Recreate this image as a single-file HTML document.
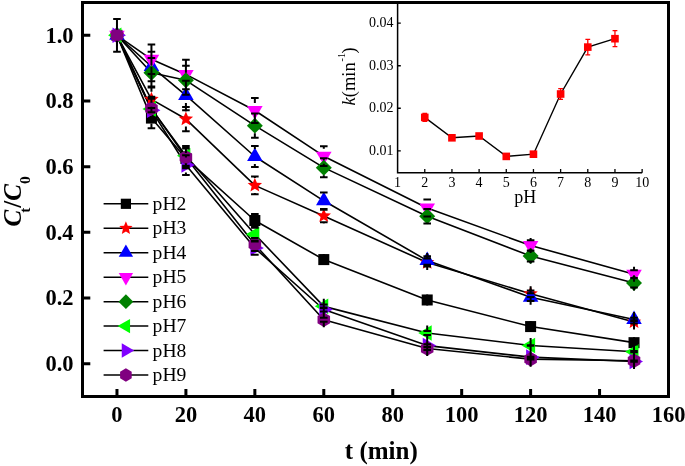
<!DOCTYPE html>
<html><head><meta charset="utf-8"><style>html,body{margin:0;padding:0;background:#fff}svg{display:block;will-change:transform}</style></head><body>
<svg width="685" height="466" viewBox="0 0 685 466">
<rect width="685" height="466" fill="#fff"/>
<g font-family="Liberation Serif" font-size="14" fill="#000">
<path d="M397.6,2.5V172.7H642.13" stroke="#000" stroke-width="1.5" fill="none"/>
<path d="M424.77,172.7V169.10M451.94,172.7V169.10M479.11,172.7V169.10M506.28,172.7V169.10M533.45,172.7V169.10M560.62,172.7V169.10M587.79,172.7V169.10M614.96,172.7V169.10M642.13,172.7V169.10M397.6,150.79H400.80M397.6,108.26H400.80M397.6,65.73H400.80M397.6,23.20H400.80" stroke="#000" stroke-width="1.3" fill="none"/>
<text x="397.60" y="186.6" text-anchor="middle">1</text>
<text x="424.77" y="186.6" text-anchor="middle">2</text>
<text x="451.94" y="186.6" text-anchor="middle">3</text>
<text x="479.11" y="186.6" text-anchor="middle">4</text>
<text x="506.28" y="186.6" text-anchor="middle">5</text>
<text x="533.45" y="186.6" text-anchor="middle">6</text>
<text x="560.62" y="186.6" text-anchor="middle">7</text>
<text x="587.79" y="186.6" text-anchor="middle">8</text>
<text x="614.96" y="186.6" text-anchor="middle">9</text>
<text x="642.13" y="186.6" text-anchor="middle">10</text>
<text x="393.6" y="154.79" text-anchor="end">0.01</text>
<text x="393.6" y="112.26" text-anchor="end">0.02</text>
<text x="393.6" y="69.73" text-anchor="end">0.03</text>
<text x="393.6" y="27.20" text-anchor="end">0.04</text>
</g>
<text x="525.3" y="203.1" text-anchor="middle" font-family="Liberation Serif" font-size="18">pH</text>
<text transform="translate(355.2,105.4) rotate(-90)" font-family="Liberation Serif" font-size="18.5"><tspan font-style="italic">k</tspan>(min<tspan font-size="10" dy="-10" dx="0.8">-1</tspan><tspan dy="10" dx="-0.3">)</tspan></text>
<polyline points="424.77,117.40 451.94,137.80 479.11,136.00 506.28,156.40 533.45,154.20 560.62,94.00 587.79,47.10 614.96,38.70" stroke="#000" stroke-width="1.4" fill="none"/>
<rect x="420.97" y="113.60" width="7.6" height="7.6" fill="#ff0000"/>
<path d="M424.77,113.40V121.40M422.37,113.40H427.17M422.37,121.40H427.17" stroke="#ff0000" stroke-width="1.3" fill="none"/>
<rect x="448.14" y="134.00" width="7.6" height="7.6" fill="#ff0000"/>
<rect x="475.31" y="132.20" width="7.6" height="7.6" fill="#ff0000"/>
<rect x="502.48" y="152.60" width="7.6" height="7.6" fill="#ff0000"/>
<rect x="529.65" y="150.40" width="7.6" height="7.6" fill="#ff0000"/>
<rect x="556.82" y="90.20" width="7.6" height="7.6" fill="#ff0000"/>
<path d="M560.62,88.70V99.30M558.22,88.70H563.02M558.22,99.30H563.02" stroke="#ff0000" stroke-width="1.3" fill="none"/>
<rect x="583.99" y="43.30" width="7.6" height="7.6" fill="#ff0000"/>
<path d="M587.79,39.40V54.80M585.39,39.40H590.19M585.39,54.80H590.19" stroke="#ff0000" stroke-width="1.3" fill="none"/>
<rect x="611.16" y="34.90" width="7.6" height="7.6" fill="#ff0000"/>
<path d="M614.96,30.70V46.70M612.56,30.70H617.36M612.56,46.70H617.36" stroke="#ff0000" stroke-width="1.3" fill="none"/>
<polyline points="116.97,35.33 151.44,118.07 185.91,158.46 254.85,220.51 323.79,259.59 427.21,299.97 530.62,326.57 634.03,342.65" stroke="#000" stroke-width="1.6" fill="none" stroke-linejoin="round"/>
<polyline points="116.97,35.33 151.44,99.36 185.91,119.06 254.85,185.38 323.79,215.92 427.21,262.54 530.62,293.73 634.03,321.97" stroke="#000" stroke-width="1.6" fill="none" stroke-linejoin="round"/>
<polyline points="116.97,35.33 151.44,66.53 185.91,95.42 254.85,156.49 323.79,200.81 427.21,260.57 530.62,297.18 634.03,319.47" stroke="#000" stroke-width="1.6" fill="none" stroke-linejoin="round"/>
<polyline points="116.97,35.33 151.44,59.30 185.91,74.41 254.85,110.52 323.79,156.16 427.21,208.04 530.62,245.47 634.03,274.16" stroke="#000" stroke-width="1.6" fill="none" stroke-linejoin="round"/>
<polyline points="116.97,35.33 151.44,72.76 185.91,80.32 254.85,125.63 323.79,167.65 427.21,216.25 530.62,255.97 634.03,282.90" stroke="#000" stroke-width="1.6" fill="none" stroke-linejoin="round"/>
<polyline points="116.97,35.33 151.44,108.88 185.91,155.83 254.85,234.30 323.79,306.37 427.21,332.97 530.62,345.48 634.03,351.68" stroke="#000" stroke-width="1.6" fill="none" stroke-linejoin="round"/>
<polyline points="116.97,35.33 151.44,110.19 185.91,165.03 254.85,248.09 323.79,309.49 427.21,345.61 530.62,357.13 634.03,361.47" stroke="#000" stroke-width="1.6" fill="none" stroke-linejoin="round"/>
<polyline points="116.97,35.33 151.44,108.55 185.91,157.47 254.85,244.48 323.79,319.67 427.21,348.56 530.62,359.17 634.03,360.71" stroke="#000" stroke-width="1.6" fill="none" stroke-linejoin="round"/>
<rect x="111.46" y="29.83" width="11.016" height="11.016" fill="#000000"/>
<rect x="145.93" y="112.57" width="11.016" height="11.016" fill="#000000"/>
<rect x="180.40" y="152.95" width="11.016" height="11.016" fill="#000000"/>
<rect x="249.34" y="215.01" width="11.016" height="11.016" fill="#000000"/>
<rect x="318.29" y="254.08" width="11.016" height="11.016" fill="#000000"/>
<rect x="421.70" y="294.46" width="11.016" height="11.016" fill="#000000"/>
<rect x="525.11" y="321.06" width="11.016" height="11.016" fill="#000000"/>
<rect x="628.52" y="337.15" width="11.016" height="11.016" fill="#000000"/>
<polygon points="116.97,27.77 118.97,32.58 124.16,33.00 120.21,36.38 121.41,41.45 116.97,38.74 112.53,41.45 113.74,36.38 109.78,33.00 114.97,32.58" fill="#ff0000"/>
<polygon points="151.44,91.80 153.44,96.61 158.63,97.02 154.68,100.41 155.88,105.47 151.44,102.76 147.00,105.47 148.21,100.41 144.25,97.02 149.44,96.61" fill="#ff0000"/>
<polygon points="185.91,111.50 187.91,116.31 193.10,116.72 189.15,120.11 190.36,125.17 185.91,122.46 181.47,125.17 182.68,120.11 178.72,116.72 183.91,116.31" fill="#ff0000"/>
<polygon points="254.85,177.82 256.85,182.63 262.04,183.05 258.09,186.43 259.30,191.50 254.85,188.78 250.41,191.50 251.62,186.43 247.66,183.05 252.85,182.63" fill="#ff0000"/>
<polygon points="323.79,208.36 325.79,213.16 330.98,213.58 327.03,216.97 328.24,222.03 323.79,219.32 319.35,222.03 320.56,216.97 316.60,213.58 321.79,213.16" fill="#ff0000"/>
<polygon points="427.21,254.98 429.21,259.79 434.40,260.20 430.44,263.59 431.65,268.66 427.21,265.94 422.76,268.66 423.97,263.59 420.02,260.20 425.21,259.79" fill="#ff0000"/>
<polygon points="530.62,286.17 532.62,290.98 537.81,291.40 533.85,294.78 535.06,299.85 530.62,297.13 526.17,299.85 527.38,294.78 523.43,291.40 528.62,290.98" fill="#ff0000"/>
<polygon points="634.03,314.41 636.03,319.22 641.22,319.63 637.26,323.02 638.47,328.08 634.03,325.37 629.59,328.08 630.79,323.02 626.84,319.63 632.03,319.22" fill="#ff0000"/>
<polygon points="116.97,26.37 124.73,39.82 109.21,39.82" fill="#0000ff"/>
<polygon points="151.44,57.56 159.20,71.01 143.68,71.01" fill="#0000ff"/>
<polygon points="185.91,86.45 193.67,99.90 178.15,99.90" fill="#0000ff"/>
<polygon points="254.85,147.52 262.62,160.97 247.09,160.97" fill="#0000ff"/>
<polygon points="323.79,191.85 331.56,205.30 316.03,205.30" fill="#0000ff"/>
<polygon points="427.21,251.61 434.97,265.05 419.44,265.05" fill="#0000ff"/>
<polygon points="530.62,288.22 538.38,301.66 522.85,301.66" fill="#0000ff"/>
<polygon points="634.03,310.51 641.79,323.96 626.27,323.96" fill="#0000ff"/>
<polygon points="116.97,44.30 109.21,30.85 124.73,30.85" fill="#ff00ff"/>
<polygon points="151.44,68.27 143.68,54.82 159.20,54.82" fill="#ff00ff"/>
<polygon points="185.91,83.37 178.15,69.92 193.67,69.92" fill="#ff00ff"/>
<polygon points="254.85,119.49 247.09,106.04 262.62,106.04" fill="#ff00ff"/>
<polygon points="323.79,165.12 316.03,151.68 331.56,151.68" fill="#ff00ff"/>
<polygon points="427.21,217.00 419.44,203.55 434.97,203.55" fill="#ff00ff"/>
<polygon points="530.62,254.43 522.85,240.98 538.38,240.98" fill="#ff00ff"/>
<polygon points="634.03,283.13 626.27,269.68 641.79,269.68" fill="#ff00ff"/>
<polygon points="116.97,27.34 124.96,35.33 116.97,43.33 108.98,35.33" fill="#008000"/>
<polygon points="151.44,64.77 159.43,72.76 151.44,80.76 143.45,72.76" fill="#008000"/>
<polygon points="185.91,72.32 193.90,80.32 185.91,88.31 177.92,80.32" fill="#008000"/>
<polygon points="254.85,117.63 262.84,125.63 254.85,133.62 246.86,125.63" fill="#008000"/>
<polygon points="323.79,159.66 331.79,167.65 323.79,175.64 315.80,167.65" fill="#008000"/>
<polygon points="427.21,208.25 435.20,216.25 427.21,224.24 419.21,216.25" fill="#008000"/>
<polygon points="530.62,247.98 538.61,255.97 530.62,263.97 522.63,255.97" fill="#008000"/>
<polygon points="634.03,274.90 642.02,282.90 634.03,290.89 626.04,282.90" fill="#008000"/>
<polygon points="108.01,35.33 121.45,27.57 121.45,43.10" fill="#00ff00"/>
<polygon points="142.48,108.88 155.92,101.12 155.92,116.64" fill="#00ff00"/>
<polygon points="176.95,155.83 190.39,148.07 190.39,163.59" fill="#00ff00"/>
<polygon points="245.89,234.30 259.33,226.54 259.33,242.07" fill="#00ff00"/>
<polygon points="314.83,306.37 328.28,298.61 328.28,314.14" fill="#00ff00"/>
<polygon points="418.24,332.97 431.69,325.20 431.69,340.73" fill="#00ff00"/>
<polygon points="521.65,345.48 535.10,337.71 535.10,353.24" fill="#00ff00"/>
<polygon points="625.07,351.68 638.51,343.92 638.51,359.45" fill="#00ff00"/>
<polygon points="125.93,35.33 112.49,43.10 112.49,27.57" fill="#8000ff"/>
<polygon points="160.41,110.19 146.96,117.96 146.96,102.43" fill="#8000ff"/>
<polygon points="194.88,165.03 181.43,172.79 181.43,157.26" fill="#8000ff"/>
<polygon points="263.82,248.09 250.37,255.86 250.37,240.33" fill="#8000ff"/>
<polygon points="332.76,309.49 319.31,317.25 319.31,301.73" fill="#8000ff"/>
<polygon points="436.17,345.61 422.72,353.37 422.72,337.85" fill="#8000ff"/>
<polygon points="539.58,357.13 526.14,364.90 526.14,349.37" fill="#8000ff"/>
<polygon points="642.99,361.47 629.55,369.23 629.55,353.70" fill="#8000ff"/>
<polygon points="116.97,28.10 123.24,31.72 123.24,38.95 116.97,42.57 110.70,38.95 110.70,31.72" fill="#800080"/>
<polygon points="151.44,101.32 157.71,104.93 157.71,112.17 151.44,115.79 145.17,112.17 145.17,104.93" fill="#800080"/>
<polygon points="185.91,150.24 192.18,153.86 192.18,161.09 185.91,164.71 179.65,161.09 179.65,153.86" fill="#800080"/>
<polygon points="254.85,237.25 261.12,240.86 261.12,248.10 254.85,251.72 248.59,248.10 248.59,240.86" fill="#800080"/>
<polygon points="323.79,312.43 330.06,316.05 330.06,323.29 323.79,326.91 317.53,323.29 317.53,316.05" fill="#800080"/>
<polygon points="427.21,341.33 433.47,344.95 433.47,352.18 427.21,355.80 420.94,352.18 420.94,344.95" fill="#800080"/>
<polygon points="530.62,351.93 536.88,355.55 536.88,362.79 530.62,366.40 524.35,362.79 524.35,355.55" fill="#800080"/>
<polygon points="634.03,353.48 640.30,357.09 640.30,364.33 634.03,367.95 627.76,364.33 627.76,357.09" fill="#800080"/>
<path d="M116.97,29.83V18.92M116.97,40.83V51.75M113.17,18.92H120.77M113.17,51.75H120.77M151.44,112.57V107.90M151.44,123.57V128.25M147.64,107.90H155.24M147.64,128.25H155.24M185.91,152.96V148.61M185.91,163.96V168.31M182.11,148.61H189.71M182.11,168.31H189.71M254.85,215.01V213.95M254.85,226.01V227.08M251.05,213.95H258.65M251.05,227.08H258.65M323.79,254.09V255.65M323.79,265.09V263.53M319.99,255.65H327.59M319.99,263.53H327.59M427.21,294.47V296.69M427.21,305.47V303.25M423.41,296.69H431.01M423.41,303.25H431.01M530.62,321.07V323.94M530.62,332.07V329.19M526.82,323.94H534.42M526.82,329.19H534.42M634.03,337.15V340.68M634.03,348.15V344.62M630.23,340.68H637.83M630.23,344.62H637.83M116.97,27.83V18.92M116.97,42.83V51.75M113.17,18.92H120.77M113.17,51.75H120.77M151.44,91.86V86.55M151.44,106.86V112.16M147.64,86.55H155.24M147.64,112.16H155.24M185.91,111.56V106.91M185.91,126.56V131.21M182.11,106.91H189.71M182.11,131.21H189.71M254.85,177.88V176.52M254.85,192.88V194.25M251.05,176.52H258.65M251.05,194.25H258.65M323.79,208.42V209.68M323.79,223.42V222.16M319.99,209.68H327.59M319.99,222.16H327.59M427.21,255.04V258.60M427.21,270.04V266.48M423.41,258.60H431.01M423.41,266.48H431.01M530.62,286.23V290.45M530.62,301.23V297.02M526.82,290.45H534.42M526.82,297.02H534.42M634.03,314.47V320.33M634.03,329.47V323.61M630.23,320.33H637.83M630.23,323.61H637.83M116.97,27.83V18.92M116.97,42.83V51.75M113.17,18.92H120.77M113.17,51.75H120.77M151.44,59.03V51.75M151.44,74.03V81.30M147.64,51.75H155.24M147.64,81.30H155.24M185.91,87.92V80.64M185.91,102.92V110.19M182.11,80.64H189.71M182.11,110.19H189.71M254.85,148.99V145.98M254.85,163.99V167.00M251.05,145.98H258.65M251.05,167.00H258.65M323.79,193.31V192.61M323.79,208.31V209.02M319.99,192.61H327.59M319.99,209.02H327.59M427.21,253.07V256.30M427.21,268.07V264.84M423.41,256.30H431.01M423.41,264.84H431.01M530.62,289.68V293.24M530.62,304.68V301.12M526.82,293.24H534.42M526.82,301.12H534.42M634.03,311.97V317.83M634.03,326.97V321.11M630.23,317.83H637.83M630.23,321.11H637.83M116.97,27.83V18.92M116.97,42.83V51.75M113.17,18.92H120.77M113.17,51.75H120.77M151.44,51.80V44.53M151.44,66.80V74.08M147.64,44.53H155.24M147.64,74.08H155.24M185.91,66.91V59.63M185.91,81.91V89.18M182.11,59.63H189.71M182.11,89.18H189.71M254.85,103.02V98.05M254.85,118.02V123.00M251.05,98.05H258.65M251.05,123.00H258.65M323.79,148.66V146.31M323.79,163.66V166.01M319.99,146.31H327.59M319.99,166.01H327.59M427.21,200.54V199.50M427.21,215.54V216.57M423.41,199.50H431.01M423.41,216.57H431.01M530.62,237.97V240.21M530.62,252.97V250.72M526.82,240.21H534.42M526.82,250.72H534.42M634.03,266.66V270.22M634.03,281.66V278.10M630.23,270.22H637.83M630.23,278.10H637.83M116.97,27.83V18.92M116.97,42.83V51.75M113.17,18.92H120.77M113.17,51.75H120.77M151.44,65.26V57.99M151.44,80.26V87.54M147.64,57.99H155.24M147.64,87.54H155.24M185.91,72.82V65.87M185.91,87.82V94.76M182.11,65.87H189.71M182.11,94.76H189.71M254.85,118.13V113.48M254.85,133.13V137.77M251.05,113.48H258.65M251.05,137.77H258.65M323.79,160.15V158.13M323.79,175.15V177.17M319.99,158.13H327.59M319.99,177.17H327.59M427.21,208.75V209.02M427.21,223.75V223.47M423.41,209.02H431.01M423.41,223.47H431.01M530.62,248.47V250.39M530.62,263.47V261.56M526.82,250.39H534.42M526.82,261.56H534.42M634.03,275.40V278.30M634.03,290.40V287.49M630.23,278.30H637.83M630.23,287.49H637.83M116.97,27.83V18.92M116.97,42.83V51.75M113.17,18.92H120.77M113.17,51.75H120.77M151.44,101.38V97.39M151.44,116.38V120.37M147.64,97.39H155.24M147.64,120.37H155.24M185.91,148.33V145.98M185.91,163.33V165.68M182.11,145.98H189.71M182.11,165.68H189.71M254.85,226.80V227.74M254.85,241.80V240.87M251.05,227.74H258.65M251.05,240.87H258.65M323.79,298.87V304.40M323.79,313.87V308.34M319.99,304.40H327.59M319.99,308.34H327.59M427.21,325.47V331.00M427.21,340.47V334.94M423.41,331.00H431.01M423.41,334.94H431.01M530.62,337.98V345.15M530.62,352.98V345.81M526.82,345.15H534.42M526.82,345.81H534.42M634.03,344.18V351.03M634.03,359.18V352.34M630.23,351.03H637.83M630.23,352.34H637.83M116.97,27.83V18.92M116.97,42.83V51.75M113.17,18.92H120.77M113.17,51.75H120.77M151.44,102.69V98.70M151.44,117.69V121.69M147.64,98.70H155.24M147.64,121.69H155.24M185.91,157.53V155.18M185.91,172.53V174.88M182.11,155.18H189.71M182.11,174.88H189.71M254.85,240.59V241.53M254.85,255.59V254.66M251.05,241.53H258.65M251.05,254.66H258.65M323.79,301.99V307.52M323.79,316.99V311.46M319.99,307.52H327.59M319.99,311.46H327.59M427.21,338.11V344.30M427.21,353.11V346.92M423.41,344.30H431.01M423.41,346.92H431.01M530.62,349.63V356.80M530.62,364.63V357.46M526.82,356.80H534.42M526.82,357.46H534.42M634.03,353.97V361.14M634.03,368.97V361.80M630.23,361.14H637.83M630.23,361.80H637.83M116.97,27.83V18.92M116.97,42.83V51.75M113.17,18.92H120.77M113.17,51.75H120.77M151.44,101.05V96.73M151.44,116.05V120.37M147.64,96.73H155.24M147.64,120.37H155.24M185.91,149.97V147.62M185.91,164.97V167.32M182.11,147.62H189.71M182.11,167.32H189.71M254.85,236.98V237.92M254.85,251.98V251.05M251.05,237.92H258.65M251.05,251.05H258.65M323.79,312.17V317.70M323.79,327.17V321.64M319.99,317.70H327.59M319.99,321.64H327.59M427.21,341.06V347.25M427.21,356.06V349.88M423.41,347.25H431.01M423.41,349.88H431.01M530.62,351.67V358.84M530.62,366.67V359.50M526.82,358.84H534.42M526.82,359.50H534.42M634.03,353.21V360.38M634.03,368.21V361.04M630.23,360.38H637.83M630.23,361.04H637.83" stroke="#000" stroke-width="2" fill="none"/>
<rect x="82.5" y="2.5" width="586.0" height="394.0" fill="none" stroke="#000" stroke-width="3"/>
<path d="M116.97,396.5V389.00M185.91,396.5V389.00M254.85,396.5V389.00M323.79,396.5V389.00M392.74,396.5V389.00M461.68,396.5V389.00M530.62,396.5V389.00M599.56,396.5V389.00M668.50,396.5V389.00M82.5,363.67H90.30M82.5,298.00H90.30M82.5,232.33H90.30M82.5,166.67H90.30M82.5,101.00H90.30M82.5,35.33H90.30" stroke="#000" stroke-width="3" fill="none"/>
<g font-family="Liberation Serif" font-weight="bold" font-size="22.5" fill="#000">
<text x="116.97" y="422.0" text-anchor="middle">0</text>
<text x="185.91" y="422.0" text-anchor="middle">20</text>
<text x="254.85" y="422.0" text-anchor="middle">40</text>
<text x="323.79" y="422.0" text-anchor="middle">60</text>
<text x="392.74" y="422.0" text-anchor="middle">80</text>
<text x="461.68" y="422.0" text-anchor="middle">100</text>
<text x="530.62" y="422.0" text-anchor="middle">120</text>
<text x="599.56" y="422.0" text-anchor="middle">140</text>
<text x="668.50" y="422.0" text-anchor="middle">160</text>
<text x="73.5" y="371.07" text-anchor="end">0.0</text>
<text x="73.5" y="305.40" text-anchor="end">0.2</text>
<text x="73.5" y="239.73" text-anchor="end">0.4</text>
<text x="73.5" y="174.07" text-anchor="end">0.6</text>
<text x="73.5" y="108.40" text-anchor="end">0.8</text>
<text x="73.5" y="42.73" text-anchor="end">1.0</text>
</g>
<text x="381.3" y="458.8" text-anchor="middle" font-family="Liberation Serif" font-weight="bold" font-size="25">t (min)</text>
<text transform="translate(20.6,226.5) rotate(-90)" font-family="Liberation Serif" font-weight="bold" font-size="25"><tspan font-style="italic">C</tspan><tspan font-size="15.5" dy="9.6" dx="-3">t</tspan><tspan dy="-9.6">/</tspan><tspan font-style="italic">C</tspan><tspan font-size="15.5" dy="9.6">0</tspan></text>
<path d="M103.6,203.80H148.3" stroke="#000" stroke-width="1.5"/>
<rect x="120.80" y="198.70" width="10.2" height="10.2" fill="#000000"/>
<text x="152.6" y="209.90" font-family="Liberation Serif" font-size="19.6">pH2</text>
<path d="M103.6,228.26H148.3" stroke="#000" stroke-width="1.5"/>
<polygon points="125.90,221.26 127.75,225.71 132.56,226.10 128.90,229.23 130.01,233.92 125.90,231.41 121.79,233.92 122.90,229.23 119.24,226.10 124.05,225.71" fill="#ff0000"/>
<text x="152.6" y="234.36" font-family="Liberation Serif" font-size="19.6">pH3</text>
<path d="M103.6,252.72H148.3" stroke="#000" stroke-width="1.5"/>
<polygon points="125.90,244.42 133.09,256.87 118.71,256.87" fill="#0000ff"/>
<text x="152.6" y="258.82" font-family="Liberation Serif" font-size="19.6">pH4</text>
<path d="M103.6,277.18H148.3" stroke="#000" stroke-width="1.5"/>
<polygon points="125.90,285.48 118.71,273.03 133.09,273.03" fill="#ff00ff"/>
<text x="152.6" y="283.28" font-family="Liberation Serif" font-size="19.6">pH5</text>
<path d="M103.6,301.64H148.3" stroke="#000" stroke-width="1.5"/>
<polygon points="125.90,294.24 133.30,301.64 125.90,309.04 118.50,301.64" fill="#008000"/>
<text x="152.6" y="307.74" font-family="Liberation Serif" font-size="19.6">pH6</text>
<path d="M103.6,326.10H148.3" stroke="#000" stroke-width="1.5"/>
<polygon points="117.60,326.10 130.05,318.91 130.05,333.29" fill="#00ff00"/>
<text x="152.6" y="332.20" font-family="Liberation Serif" font-size="19.6">pH7</text>
<path d="M103.6,350.56H148.3" stroke="#000" stroke-width="1.5"/>
<polygon points="134.20,350.56 121.75,357.75 121.75,343.37" fill="#8000ff"/>
<text x="152.6" y="356.66" font-family="Liberation Serif" font-size="19.6">pH8</text>
<path d="M103.6,375.02H148.3" stroke="#000" stroke-width="1.5"/>
<polygon points="125.90,368.32 131.70,371.67 131.70,378.37 125.90,381.72 120.10,378.37 120.10,371.67" fill="#800080"/>
<text x="152.6" y="381.12" font-family="Liberation Serif" font-size="19.6">pH9</text>
</svg>
</body></html>
